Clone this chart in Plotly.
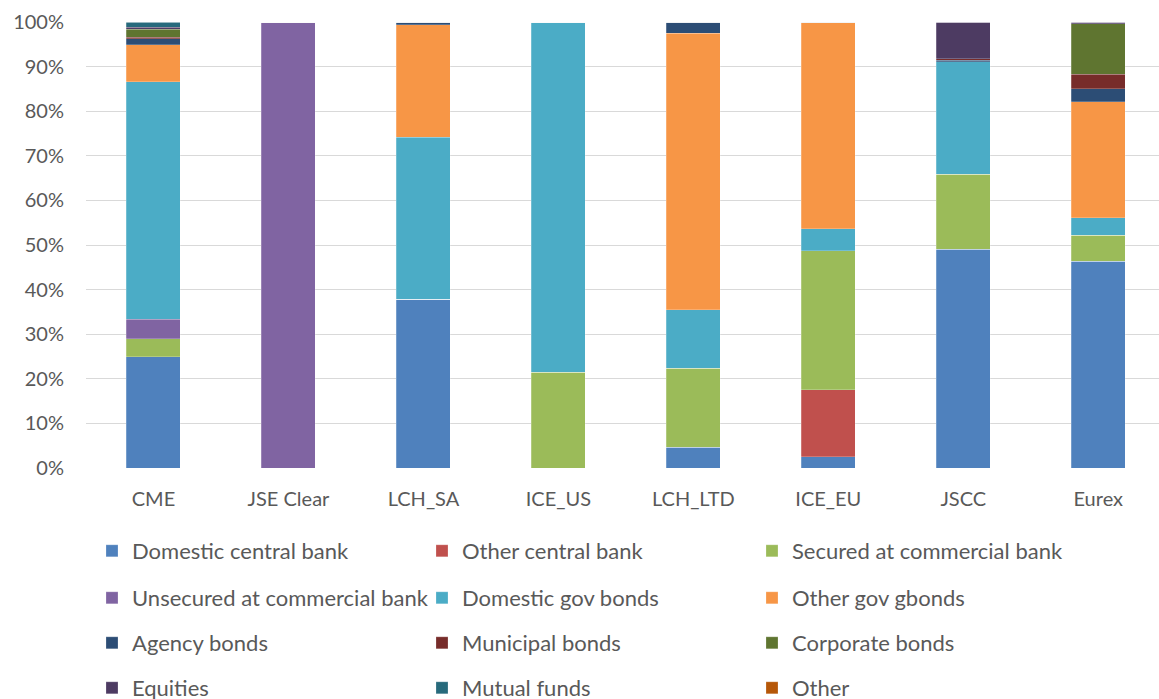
import plotly.graph_objects as go

categories = ["CME", "JSE Clear", "LCH_SA", "ICE_US", "LCH_LTD", "ICE_EU", "JSCC", "Eurex"]

domestic_central_bank = [25.0, 0, 37.8, 0, 4.7, 2.5, 49.1, 46.4]
other_central_bank = [0, 0, 0, 0, 0, 15.0, 0, 0]
secured_commercial = [4.0, 0, 0, 21.5, 17.7, 31.2, 16.8, 5.8]
unsecured_commercial = [4.3, 100.0, 0, 0, 0, 0, 0, 0]
domestic_gov_bonds = [53.3, 0, 36.4, 78.5, 13.1, 4.9, 25.2, 3.9]
other_gov_bonds = [8.3, 0, 25.2, 0, 62.0, 46.2, 0, 26.0]
agency_bonds = [1.4, 0, 0.6, 0, 2.5, 0.2, 0.3, 2.9]
municipal_bonds = [0.3, 0, 0, 0, 0, 0, 0.4, 3.3]
corporate_bonds = [1.8, 0, 0, 0, 0, 0, 0, 11.3]
equities = [0.4, 0, 0, 0, 0, 0, 8.2, 0.4]
mutual_funds = [1.2, 0, 0, 0, 0, 0, 0, 0]
other = [0, 0, 0, 0, 0, 0, 0, 0]

series = [
    ("Domestic central bank", domestic_central_bank, "#4F81BD"),
    ("Other central bank", other_central_bank, "#C0504D"),
    ("Secured at commercial bank", secured_commercial, "#9BBB59"),
    ("Unsecured at commercial bank", unsecured_commercial, "#8064A2"),
    ("Domestic gov bonds", domestic_gov_bonds, "#4BACC6"),
    ("Other gov gbonds", other_gov_bonds, "#F79646"),
    ("Agency bonds", agency_bonds, "#2C4D75"),
    ("Municipal bonds", municipal_bonds, "#772C2A"),
    ("Corporate bonds", corporate_bonds, "#5F7530"),
    ("Equities", equities, "#4D3B62"),
    ("Mutual funds", mutual_funds, "#276A7C"),
    ("Other", other, "#B65708"),
]

W, H = 1159, 699
FONT = "Lato, 'Open Sans', sans-serif"
legend_rows_y = [551, 598, 643, 688]
legend_names = ["legend", "legend2", "legend3", "legend4"]

fig = go.Figure()
for i, (name, vals, color) in enumerate(series):
    fig.add_trace(go.Bar(
        x=categories, y=[v / 100 for v in vals], name=name,
        marker=dict(color=color, line=dict(width=0.5, color="rgba(255,255,255,0.45)")),
        legend=legend_names[i // 3],
    ))

layout_legends = {}
for k, ln in enumerate(legend_names):
    layout_legends[ln] = dict(
        orientation="h", xref="container", yref="container",
        x=92 / W, y=1 - legend_rows_y[k] / H, xanchor="left", yanchor="middle",
        entrywidth=285, entrywidthmode="pixels",
        font=dict(family=FONT, size=22, color="#595959"),
        bgcolor="rgba(0,0,0,0)", itemclick=False, itemdoubleclick=False,
        traceorder="normal",
    )

fig.update_layout(
    width=W, height=H,
    margin=dict(l=86, r=0, t=22, b=231),
    barmode="stack", bargap=0.6,
    plot_bgcolor="white", paper_bgcolor="white",
    font=dict(family=FONT, size=20, color="#595959"),
    showlegend=True,
    **layout_legends,
)
fig.update_xaxes(range=[-0.5, 7.45], showgrid=False, showline=False, zeroline=False,
                 tickfont=dict(family=FONT, size=20, color="#595959"), ticklabelstandoff=17)
fig.update_yaxes(range=[0, 1], dtick=0.1, tickformat=".0%", showgrid=True, gridcolor="#D9D9D9",
                 gridwidth=1.3, zeroline=False, showline=False,
                 tickfont=dict(family=FONT, size=20, color="#595959"), ticklabelstandoff=21)

fig.write_html("out.html")
